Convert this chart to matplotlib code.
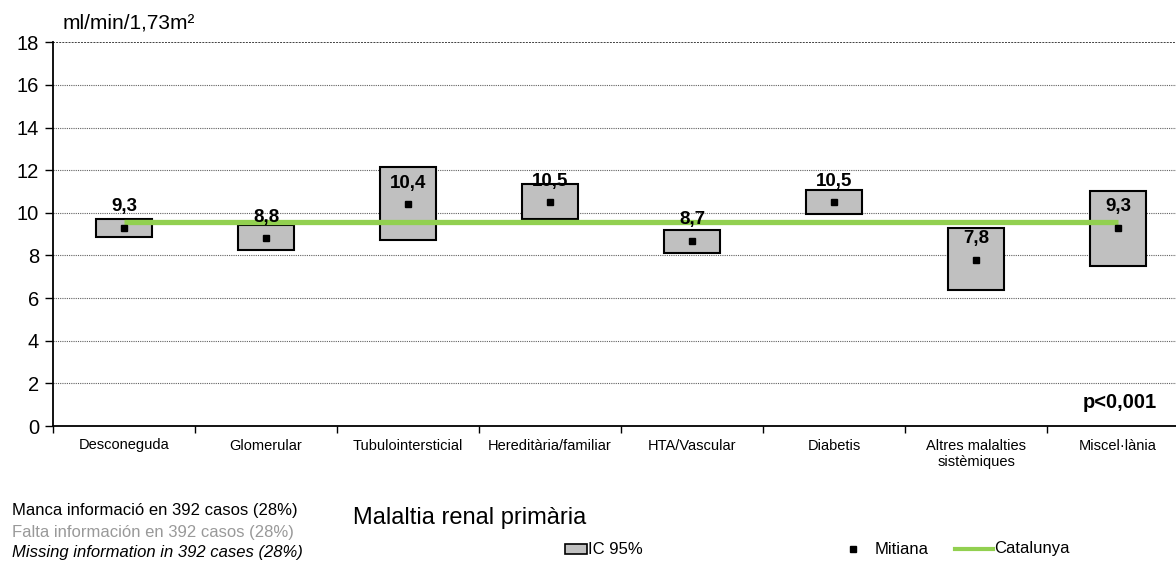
'''
Filtrat glomerular per malaltia renal primària (IC 95%, mitjana i Catalunya).
'''

import matplotlib
matplotlib.use("Agg")
import matplotlib.pyplot as plt
from matplotlib.patches import Rectangle
from matplotlib.lines import Line2D
import numpy as np

plt.rcParams['font.family'] = ['Liberation Sans', 'DejaVu Sans']

categories = [
    "Desconeguda", "Glomerular", "Tubulointersticial", "Hereditària/familiar",
    "HTA/Vascular", "Diabetis", "Altres malalties\nsistèmiques", "Miscel·lània",
]
ci_low = [8.87, 8.26, 8.72, 9.69, 8.11, 9.96, 6.36, 7.50]
ci_high = [9.71, 9.41, 12.13, 11.35, 9.18, 11.05, 9.27, 11.02]
means = [9.3, 8.8, 10.4, 10.5, 8.7, 10.5, 7.8, 9.3]
mean_labels = ["9,3", "8,8", "10,4", "10,5", "8,7", "10,5", "7,8", "9,3"]
catalunya = 9.55

if __name__ == '__main__':

    W, H = 1176, 569
    fig = plt.figure(figsize=(W / 100, H / 100), dpi=100)
    # axes runs slightly past the right edge, as in the original
    left, right, bottom, top = 53, 1189, 426, 42.3
    ax = fig.add_axes([left / W, 1 - bottom / H, (right - left) / W, (bottom - top) / H])

    x = np.arange(len(categories))
    lows = np.array(ci_low)
    highs = np.array(ci_high)

    ax.bar(x, highs - lows, bottom=lows, width=0.39, color="#c0c0c0",
           edgecolor="black", linewidth=1.5, zorder=3)
    ax.plot([x[0], x[-1]], [catalunya, catalunya], color="#92d050", lw=3.8,
            solid_capstyle="butt", zorder=4)
    ax.plot(x, means, linestyle="none", marker="s", markersize=4.3,
            color="black", zorder=5)

    for xi, m, lab in zip(x, means, mean_labels):
        ax.annotate(lab, (xi, m), xytext=(0, 15), textcoords="offset points",
                    ha="center", va="center", fontsize=13.5, fontweight="bold", zorder=6)

    ax.set_xlim(-0.5, len(categories) - 0.5)
    ax.set_ylim(0, 18)
    ax.set_yticks(np.arange(0, 19, 2))
    ax.tick_params(axis="y", labelsize=14.5, length=6, width=1, pad=4)

    ax.set_xticks(x)
    ax.set_xticklabels(categories, fontsize=10.5)
    ax.set_xticks(np.arange(-0.5, len(categories), 1), minor=True)
    ax.tick_params(axis="x", which="major", length=0, pad=9)
    ax.tick_params(axis="x", which="minor", length=5, width=1, direction="out")

    for yv in np.arange(2, 18, 2):
        ax.axhline(yv, color="#606060", lw=0.8, linestyle=(0, (1, 1)), zorder=1)
    ax.axhline(18, color="#404040", lw=1.4, linestyle=(0, (1, 0.6)), zorder=1)

    for s in ["top", "right"]:
        ax.spines[s].set_visible(False)
    ax.spines["left"].set_linewidth(1.3)
    ax.spines["bottom"].set_linewidth(1.3)

    ax.text(1157 / W, 1 - 403 / H, "p<0,001", transform=fig.transFigure,
            ha="right", va="center", fontsize=14.5, fontweight="bold")

    fig.text(63 / W, 1 - 23 / H, "ml/min/1,73m²", ha="left", va="center", fontsize=15)

    # notes at the bottom
    fig.text(12 / W, 1 - 511 / H, "Manca informació en 392 casos (28%)",
             ha="left", va="center", fontsize=12)
    fig.text(12 / W, 1 - 532 / H, "Falta información en 392 casos (28%)",
             ha="left", va="center", fontsize=12, color="#999999")
    fig.text(12 / W, 1 - 553 / H, "Missing information in 392 cases (28%)",
             ha="left", va="center", fontsize=12, style="italic")

    fig.text(353 / W, 1 - 518 / H, "Malaltia renal primària",
             ha="left", va="center", fontsize=17)

    # hand-placed legend
    ly = 1 - 549 / H
    fig.add_artist(Rectangle((565 / W, ly - 5 / H), 22 / W, 10 / H,
                             transform=fig.transFigure, facecolor="#c0c0c0",
                             edgecolor="black", linewidth=1.2))
    fig.text(588 / W, ly, "IC 95%", ha="left", va="center", fontsize=12)
    fig.add_artist(Line2D([853 / W], [ly], transform=fig.transFigure, marker="s",
                          markersize=4, color="black", linestyle="none"))
    fig.text(875 / W, ly, "Mitiana", ha="left", va="center", fontsize=12)
    fig.add_artist(Line2D([955 / W, 993 / W], [ly, ly], transform=fig.transFigure,
                          color="#92d050", lw=3))
    fig.text(994 / W, ly, "Catalunya", ha="left", va="center", fontsize=12)

    fig.savefig("out.png", dpi=100)
